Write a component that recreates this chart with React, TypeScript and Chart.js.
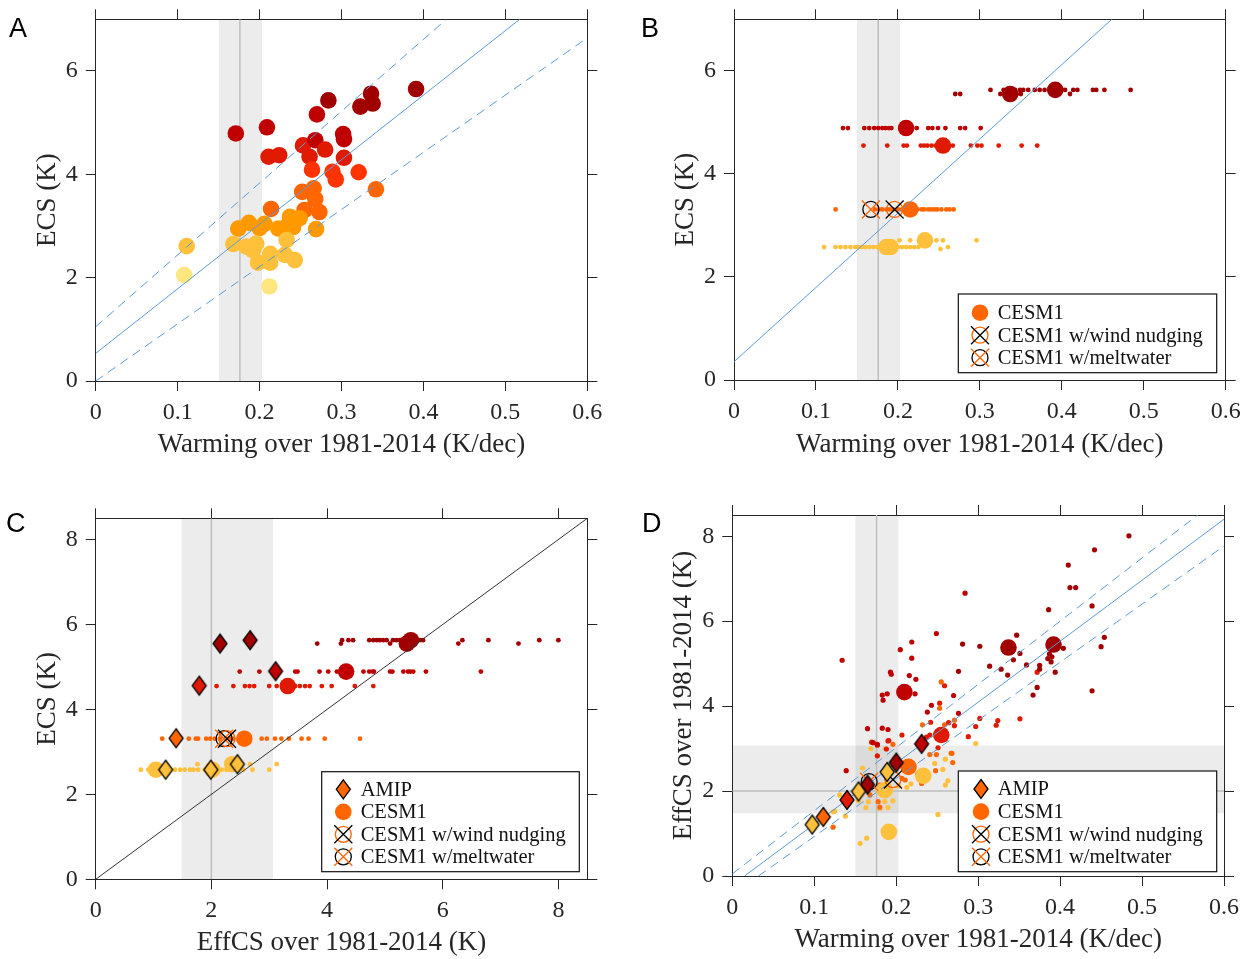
import React, { useEffect, useRef } from 'react';
import { Chart, registerables } from 'chart.js';

Chart.register(...registerables);

// ---------------- DATA ----------------
// Panel A: individual models, 1981-2014 warming trend (K/dec) vs ECS (K)
const A_WARMING = [0.171, 0.209, 0.284, 0.270, 0.323, 0.336, 0.338, 0.391, 0.302, 0.303, 0.303, 0.253, 0.268, 0.280, 0.261, 0.211, 0.224, 0.264, 0.289, 0.293, 0.321, 0.342, 0.252, 0.266, 0.268, 0.255, 0.273, 0.214, 0.269, 0.174, 0.187, 0.206, 0.223, 0.237, 0.249, 0.241, 0.200, 0.233, 0.111, 0.168, 0.184, 0.196, 0.192, 0.233, 0.213, 0.231, 0.243, 0.198, 0.213, 0.108, 0.212];
const A_ECS = [4.79, 4.91, 5.43, 5.16, 5.31, 5.56, 5.37, 5.65, 4.78, 4.68, 4.32, 4.56, 4.66, 4.48, 4.34, 4.34, 4.37, 4.09, 4.05, 3.90, 4.04, 3.71, 3.66, 3.73, 3.52, 3.31, 3.27, 3.33, 2.94, 2.95, 3.06, 3.04, 2.95, 3.18, 3.15, 2.98, 2.96, 2.99, 2.61, 2.65, 2.60, 2.66, 2.53, 2.73, 2.46, 2.44, 2.34, 2.29, 2.29, 2.05, 1.83];

// Large-ensemble means
const LE_WARMING = [0.337, 0.392, 0.210, 0.255, 0.215, 0.233, 0.186, 0.191];
const LE_ECS = [5.55, 5.63, 4.89, 4.55, 3.31, 2.71, 2.58, 2.58];
const LE_EFFCS = [5.38, 5.45, 4.33, 3.32, 2.57, 2.36, 2.02, 1.04];

// CESM1 sensitivity experiments
const CESM1_ECS = 3.31;
const NUDGE_WARMING = 0.196;
const NUDGE_EFFCS = 2.27;
const MELT_WARMING = 0.167;
const MELT_EFFCS = 2.22;

// AMIP runs
const AMIP_WARMING = [0.165, 0.200, 0.231, 0.140, 0.111, 0.0975, 0.154, 0.189];
const AMIP_EFFCS = [2.15, 2.67, 3.11, 1.79, 1.39, 1.21, 1.99, 2.45];
const AMIP_ECS = [5.55, 5.63, 4.90, 4.56, 3.32, 2.58, 2.58, 2.71];

// Panel B ensemble members: warming (K/dec) and ECS
const B_ENS1_X = [0.270, 0.276, 0.313, 0.325, 0.329, 0.335, 0.343, 0.345, 0.349, 0.350, 0.353, 0.359, 0.367, 0.373, 0.379, 0.404, 0.410, 0.414, 0.419, 0.438, 0.442, 0.452, 0.484];
const B_ENS1_Y = [5.55, 5.55, 5.63, 5.55, 5.63, 5.63, 5.63, 5.55, 5.63, 5.55, 5.63, 5.63, 5.63, 5.63, 5.63, 5.63, 5.55, 5.63, 5.63, 5.63, 5.63, 5.63, 5.63];
const B_ENS2_X = [0.133, 0.139, 0.159, 0.165, 0.171, 0.176, 0.181, 0.185, 0.189, 0.192, 0.217, 0.223, 0.237, 0.242, 0.249, 0.258, 0.276, 0.282, 0.301];
const B_ENS2_Y = 4.89;
const B_ENS3_X = [0.158, 0.187, 0.207, 0.211, 0.228, 0.232, 0.236, 0.241, 0.246, 0.249, 0.261, 0.267, 0.289, 0.297, 0.302, 0.323, 0.351, 0.370];
const B_ENS3_Y = 4.55;
const B_ENS4_X = [0.124, 0.172, 0.177, 0.181, 0.186, 0.190, 0.194, 0.200, 0.205, 0.220, 0.224, 0.229, 0.232, 0.237, 0.241, 0.245, 0.248, 0.253, 0.259, 0.263, 0.268];
const B_ENS4_Y = 3.31;
const B_ENS5_X = [0.110, 0.124, 0.130, 0.136, 0.142, 0.148, 0.152, 0.156, 0.160, 0.165, 0.170, 0.175, 0.195, 0.200, 0.205, 0.210, 0.215, 0.220, 0.225, 0.202, 0.215, 0.247, 0.255, 0.252, 0.261, 0.296];
const B_ENS5_Y = [2.58, 2.58, 2.58, 2.58, 2.58, 2.58, 2.58, 2.58, 2.58, 2.58, 2.58, 2.58, 2.58, 2.58, 2.58, 2.58, 2.58, 2.58, 2.58, 2.71, 2.71, 2.71, 2.71, 2.54, 2.58, 2.71];

// Panel C ensemble members: EffCS (K) and ECS
const C_ENS1_X = [3.83, 4.24, 4.26, 4.37, 4.45, 4.73, 4.80, 4.86, 4.91, 4.97, 5.03, 5.09, 5.14, 5.20, 5.26, 5.61, 5.66, 6.27, 6.34, 6.79, 7.31, 7.67, 8.00];
const C_ENS1_Y = [5.55, 5.55, 5.63, 5.63, 5.63, 5.63, 5.63, 5.63, 5.63, 5.63, 5.63, 5.55, 5.63, 5.63, 5.63, 5.63, 5.63, 5.55, 5.63, 5.63, 5.55, 5.63, 5.63];
const C_ENS2_X = [2.49, 2.83, 3.45, 3.49, 3.87, 4.02, 4.17, 4.63, 4.73, 4.79, 4.81, 5.09, 5.13, 5.32, 5.40, 5.44, 5.49, 5.71, 6.66];
const C_ENS2_Y = 4.89;
const C_ENS3_X = [2.09, 2.38, 2.58, 2.66, 2.74, 3.00, 3.13, 3.45, 3.53, 3.62, 3.70, 3.91, 4.08, 4.48, 4.80];
const C_ENS3_Y = 4.55;
const C_ENS4_X = [1.15, 1.61, 1.73, 1.77, 1.91, 1.98, 2.06, 2.15, 2.32, 2.38, 2.87, 2.96, 3.10, 3.21, 3.34, 3.56, 3.68, 3.96, 4.57];
const C_ENS4_Y = 3.31;
const C_ENS5_X = [0.78, 0.91, 0.97, 1.11, 1.37, 1.46, 1.54, 1.63, 1.69, 1.76, 1.77, 1.89, 2.09, 2.18, 2.26, 2.32, 2.55, 2.67, 2.71, 3.00, 3.13];
const C_ENS5_Y = [2.58, 2.58, 2.58, 2.58, 2.58, 2.58, 2.58, 2.58, 2.58, 2.71, 2.58, 2.58, 2.58, 2.58, 2.58, 2.58, 2.58, 2.71, 2.58, 2.58, 2.71];

// Panel D ensemble members: warming (K/dec) and EffCS (K)
const D_GROUP_ECS = [5.6, 4.89, 4.55, 3.31, 2.58];
const D_ENS1_X = [0.484, 0.442, 0.410, 0.412, 0.419, 0.386, 0.439, 0.347, 0.454, 0.450, 0.351, 0.343, 0.328, 0.336, 0.314, 0.359, 0.375, 0.375, 0.385, 0.390, 0.389, 0.387, 0.404, 0.394, 0.372, 0.367, 0.439, 0.281, 0.302, 0.276];
const D_ENS1_Y = [8.01, 7.68, 7.32, 6.79, 6.79, 6.27, 6.36, 5.67, 5.62, 5.40, 5.24, 5.09, 4.87, 4.73, 4.94, 4.97, 4.96, 4.87, 5.12, 5.16, 5.04, 5.23, 5.36, 4.80, 4.44, 4.26, 4.36, 5.46, 5.41, 4.82];
const D_ENS2_X = [0.284, 0.134, 0.249, 0.219, 0.205, 0.219, 0.193, 0.194, 0.216, 0.224, 0.223, 0.183, 0.189, 0.184, 0.270, 0.243, 0.238, 0.276, 0.165, 0.183, 0.190, 0.139, 0.177, 0.172];
const D_ENS2_Y = [6.66, 5.08, 5.71, 5.51, 5.33, 5.13, 4.80, 4.75, 4.72, 4.63, 4.29, 4.26, 4.29, 4.14, 4.25, 4.02, 3.86, 3.83, 3.47, 3.48, 3.45, 2.48, 3.10, 3.14];
const D_ENS3_X = [0.372, 0.259, 0.253, 0.242, 0.264, 0.271, 0.302, 0.297, 0.324, 0.322, 0.351, 0.288, 0.207, 0.191, 0.241, 0.237, 0.251, 0.170, 0.190, 0.177, 0.188, 0.177];
const D_ENS3_Y = [4.80, 4.48, 4.07, 3.62, 3.61, 3.54, 3.71, 3.52, 3.66, 3.55, 3.70, 3.28, 3.32, 3.19, 3.32, 3.27, 3.02, 3.15, 3.18, 3.08, 2.99, 2.83];
const D_ENS4_X = [0.255, 0.253, 0.232, 0.271, 0.259, 0.196, 0.260, 0.241, 0.249, 0.267, 0.269, 0.248, 0.226, 0.231, 0.207, 0.211, 0.180, 0.186, 0.168, 0.178, 0.180, 0.123, 0.268];
const D_ENS4_Y = [4.57, 3.95, 3.56, 3.67, 3.56, 3.10, 3.22, 2.86, 2.86, 2.89, 2.67, 2.48, 2.40, 2.18, 2.30, 2.26, 2.14, 1.98, 1.91, 1.75, 1.62, 1.15, 2.89];
const D_ENS5_X = [0.297, 0.169, 0.187, 0.159, 0.260, 0.247, 0.257, 0.263, 0.260, 0.218, 0.213, 0.203, 0.190, 0.166, 0.186, 0.196, 0.163, 0.154, 0.138, 0.131, 0.123, 0.164, 0.156, 0.251, 0.180, 0.190, 0.125];
const D_ENS5_Y = [3.12, 3.00, 3.00, 2.54, 2.75, 2.65, 2.51, 2.24, 2.14, 2.17, 2.09, 2.12, 2.18, 1.75, 1.75, 1.77, 1.61, 1.77, 1.41, 1.91, 1.51, 0.89, 0.77, 1.45, 1.59, 1.61, 1.53];

// Regression / reference lines (end points)
const A_FIT_X = [0, 0.5175];
const A_FIT_Y = [0.535, 7];
const A_UPPER_X = [0, 0.428];
const A_UPPER_Y = [1.05, 7];
const A_LOWER_X = [0, 0.6];
const A_LOWER_Y = [0, 6.64];
const B_FIT_X = [0, 0.461];
const B_FIT_Y = [0.354, 7];
const C_ONE_TO_ONE = [0, 8.5];
const D_FIT_X = [0.015, 0.6];
const D_FIT_Y = [0, 8.4];
const D_UPPER_X = [0, 0.568];
const D_UPPER_Y = [0.05, 8.5];
const D_LOWER_X = [0.032, 0.6];
const D_LOWER_Y = [0, 7.77];

// Observations
const OBS_WARMING = 0.176;
const OBS_WARMING_RANGE = [0.150, 0.203];
const OBS_EFFCS = 2.0;
const OBS_EFFCS_RANGE = [1.48, 3.07];

// Ticks
const WARMING_TICKS = [0, 0.1, 0.2, 0.3, 0.4, 0.5, 0.6];
const WARMING_TICK_LABELS = ['0', '0.1', '0.2', '0.3', '0.4', '0.5', '0.6'];
const ECS_TICKS_AB = [0, 2, 4, 6];
const ECS_TICK_LABELS_AB = ['0', '2', '4', '6'];
const K_TICKS = [0, 2, 4, 6, 8];
const K_TICK_LABELS = ['0', '2', '4', '6', '8'];

// ---------------- STYLE ----------------
const AXIS = '#262626';
const TXT = '#262626';
const SERIF = '"Liberation Serif", "Times New Roman", Times, serif';
const SANS = '"Liberation Sans", Arial, sans-serif';
const BLUE = '#5b9bd5';
const OBS_GRAY = '#bdbdbd';
const BAND = 'rgba(0,0,0,0.075)';
const CESM_ORANGE = '#ff6600';
const DASH = [9, 6];

function ecsColor(e: number): string {
  if (e >= 5.25) return '#a00000';
  if (e >= 4.65) return '#c00000';
  if (e >= 4.25) return '#e01a00';
  if (e >= 3.85) return '#ff3300';
  if (e >= 3.2) return '#ff6600';
  if (e >= 2.85) return '#ff9900';
  if (e >= 2.2) return '#ffc03c';
  return '#ffe680';
}

type Pt = { x: number; y: number };
const zip = (xs: number[], ys: number[] | number): Pt[] =>
  xs.map((x, i) => ({ x, y: typeof ys === 'number' ? ys : ys[i] }));

function lineDs(xs: number[], ys: number[], color: string, width: number, dash: number[], order: number) {
  return {
    type: 'line', data: zip(xs, ys), borderColor: color, borderWidth: width, borderDash: dash,
    pointRadius: 0, pointHoverRadius: 0, fill: false, tension: 0, order, xAxisID: 'x', yAxisID: 'y',
  };
}
function bandDs(xs: number[], top: number, bottom: number, order: number) {
  return {
    type: 'line', data: zip(xs, top), borderWidth: 0, borderColor: 'rgba(0,0,0,0)',
    backgroundColor: BAND, fill: { value: bottom }, pointRadius: 0, pointHoverRadius: 0, order,
    xAxisID: 'x', yAxisID: 'y',
  };
}
function dotsDs(pts: Pt[], colors: string | string[], r: number, order: number) {
  return {
    type: 'scatter', data: pts, pointRadius: r, pointHoverRadius: r, pointBackgroundColor: colors,
    pointBorderWidth: 0, pointBorderColor: 'rgba(0,0,0,0)', showLine: false, order, xAxisID: 'x', yAxisID: 'y',
  };
}
function ringDs(pts: Pt[], color: string, r: number, order: number) {
  return {
    type: 'scatter', data: pts, pointStyle: 'circle', pointRadius: r, pointHoverRadius: r,
    pointBackgroundColor: 'rgba(0,0,0,0)', pointBorderColor: color, pointBorderWidth: 1.3,
    showLine: false, order, xAxisID: 'x', yAxisID: 'y',
  };
}
function crossDs(pts: Pt[], color: string, r: number, order: number) {
  return {
    type: 'scatter', data: pts, pointStyle: 'crossRot', pointRadius: r, pointHoverRadius: r,
    pointBorderColor: color, pointBorderWidth: 1.3, showLine: false, order, xAxisID: 'x', yAxisID: 'y',
  };
}
const diamondCache: Record<string, HTMLCanvasElement> = {};
function diamond(color: string): HTMLCanvasElement {
  if (diamondCache[color]) return diamondCache[color];
  const c = document.createElement('canvas');
  c.width = 18; c.height = 24;
  const g = c.getContext('2d')!;
  g.beginPath(); g.moveTo(9, 2.5); g.lineTo(16, 12); g.lineTo(9, 21.5); g.lineTo(2, 12); g.closePath();
  g.fillStyle = color; g.fill(); g.lineWidth = 1.3; g.strokeStyle = '#000'; g.stroke();
  diamondCache[color] = c;
  return c;
}
function diamondDs(pts: Pt[], ecs: number[], order: number) {
  return {
    type: 'scatter', data: pts, pointStyle: ecs.map((e) => diamond(ecsColor(e))), pointRadius: 9,
    pointHoverRadius: 9, showLine: false, order, xAxisID: 'x', yAxisID: 'y',
  };
}

interface ScaleSpec {
  xMin: number; xMax: number; yMin: number; yMax: number;
  xTicks: number[]; xLabels: string[]; yTicks: number[]; yLabels: string[];
  xTitle: string; yTitle: string;
  left: number; right: number; top: number; bottom: number;
  xTitlePad: number; yTitlePad: number;
}
function buildScales(p: ScaleSpec) {
  const grid = { drawOnChartArea: false, drawTicks: true, tickLength: 10, color: AXIS, lineWidth: 1 };
  const border = { display: true, color: AXIS, width: 1 };
  const tickFont = { family: SERIF, size: 24 };
  const titleFont = { family: SERIF, size: 27 };
  const setTicks = (vals: number[]) => (s: any) => { s.ticks = vals.map((v) => ({ value: v })); };
  const fix = (key: 'width' | 'height', v: number) => (s: any) => {
    s[key] = v;
    s.paddingTop = 0; s.paddingBottom = 0; s.paddingLeft = 0; s.paddingRight = 0;
  };
  return {
    x: {
      type: 'linear', position: 'bottom', min: p.xMin, max: p.xMax, bounds: 'data',
      afterBuildTicks: setTicks(p.xTicks), afterFit: fix('height', p.bottom),
      grid, border,
      ticks: { font: tickFont, color: TXT, padding: 7.5, autoSkip: false, maxRotation: 0, minRotation: 0,
        callback: (_v: any, i: number) => p.xLabels[i] },
      title: { display: true, text: p.xTitle, font: titleFont, color: TXT, padding: { top: 0, bottom: p.xTitlePad } },
    },
    x2: {
      type: 'linear', position: 'top', min: p.xMin, max: p.xMax, bounds: 'data',
      afterBuildTicks: setTicks(p.xTicks), afterFit: fix('height', p.top),
      grid, border, ticks: { display: false },
    },
    y: {
      type: 'linear', position: 'left', min: p.yMin, max: p.yMax, bounds: 'data',
      afterBuildTicks: setTicks(p.yTicks), afterFit: fix('width', p.left),
      grid, border,
      ticks: { font: tickFont, color: TXT, padding: 8, autoSkip: false, callback: (_v: any, i: number) => p.yLabels[i] },
      title: { display: true, text: p.yTitle, font: titleFont, color: TXT, padding: { top: p.yTitlePad, bottom: 0 } },
    },
    y2: {
      type: 'linear', position: 'right', min: p.yMin, max: p.yMax, bounds: 'data',
      afterBuildTicks: setTicks(p.yTicks), afterFit: fix('width', p.right),
      grid, border, ticks: { display: false },
    },
  };
}

// legend drawing
function drawX(ctx: CanvasRenderingContext2D, x: number, y: number, h: number, color: string) {
  ctx.beginPath();
  ctx.moveTo(x - h, y - h); ctx.lineTo(x + h, y + h);
  ctx.moveTo(x + h, y - h); ctx.lineTo(x - h, y + h);
  ctx.strokeStyle = color; ctx.lineWidth = 1.3; ctx.stroke();
}
function drawRing(ctx: CanvasRenderingContext2D, x: number, y: number, r: number, color: string) {
  ctx.beginPath(); ctx.arc(x, y, r, 0, Math.PI * 2);
  ctx.strokeStyle = color; ctx.lineWidth = 1.3; ctx.stroke();
}
function drawMarker(ctx: CanvasRenderingContext2D, kind: string, x: number, y: number) {
  ctx.save();
  if (kind === 'diamond') {
    ctx.beginPath(); ctx.moveTo(x, y - 9.5); ctx.lineTo(x + 7, y); ctx.lineTo(x, y + 9.5); ctx.lineTo(x - 7, y); ctx.closePath();
    ctx.fillStyle = CESM_ORANGE; ctx.fill(); ctx.lineWidth = 1.3; ctx.strokeStyle = '#000'; ctx.stroke();
  } else if (kind === 'circle') {
    ctx.beginPath(); ctx.arc(x, y, 8.3, 0, Math.PI * 2); ctx.fillStyle = CESM_ORANGE; ctx.fill();
  } else if (kind === 'nudge') {
    drawRing(ctx, x, y, 8, CESM_ORANGE); drawX(ctx, x, y, 9, '#000');
  } else if (kind === 'melt') {
    drawRing(ctx, x, y, 8, '#000'); drawX(ctx, x, y, 9, CESM_ORANGE);
  }
  ctx.restore();
}
interface LegendSpec {
  left: number; top: number; width: number; height: number;
  firstRow: number; rowGap: number; markerX: number; textX: number;
  items: { kind: string; label: string }[];
}
function legendPlugin(spec: LegendSpec) {
  return {
    id: 'boxLegend',
    afterDatasetsDraw(chart: any) {
      const ctx: CanvasRenderingContext2D = chart.ctx;
      ctx.save();
      ctx.fillStyle = '#fff';
      ctx.fillRect(spec.left, spec.top, spec.width, spec.height);
      ctx.strokeStyle = '#111'; ctx.lineWidth = 1.2;
      ctx.strokeRect(spec.left, spec.top, spec.width, spec.height);
      ctx.font = `20.5px ${SERIF}`;
      ctx.textBaseline = 'middle';
      ctx.textAlign = 'left';
      spec.items.forEach((it, i) => {
        const cy = spec.top + spec.firstRow + i * spec.rowGap;
        drawMarker(ctx, it.kind, spec.markerX, cy);
        ctx.fillStyle = '#111';
        ctx.fillText(it.label, spec.textX, cy + 1);
      });
      ctx.restore();
    },
  };
}

const baseOptions = {
  responsive: false,
  animation: false,
  devicePixelRatio: 1,
  events: [],
  layout: { padding: 0 },
  plugins: { legend: { display: false }, tooltip: { enabled: false } },
};

// ---------------- PANELS ----------------
function configA() {
  return {
    type: 'scatter',
    data: {
      datasets: [
        lineDs(A_FIT_X, A_FIT_Y, BLUE, 1, [], 10),
        lineDs(A_UPPER_X, A_UPPER_Y, BLUE, 1, DASH, 10),
        lineDs(A_LOWER_X, A_LOWER_Y, BLUE, 1, DASH, 10),
        dotsDs(zip(A_WARMING, A_ECS), A_ECS.map(ecsColor), 8.3, 20),
        lineDs([OBS_WARMING, OBS_WARMING], [0, 7], OBS_GRAY, 1.5, [], 90),
        bandDs(OBS_WARMING_RANGE, 7, 0, 100),
      ],
    },
    options: {
      ...baseOptions,
      scales: buildScales({
        xMin: 0, xMax: 0.6, yMin: 0, yMax: 7, xTicks: WARMING_TICKS, xLabels: WARMING_TICK_LABELS,
        yTicks: ECS_TICKS_AB, yLabels: ECS_TICK_LABELS_AB, xTitle: 'Warming over 1981-2014 (K/dec)', yTitle: 'ECS (K)',
        left: 95.7, right: 37.7, top: 19.3, bottom: 99, xTitlePad: 18.5, yTitlePad: 31.8,
      }),
    },
  };
}

function configB() {
  const ens = [
    zip(B_ENS1_X, B_ENS1_Y), zip(B_ENS2_X, B_ENS2_Y), zip(B_ENS3_X, B_ENS3_Y),
    zip(B_ENS4_X, B_ENS4_Y), zip(B_ENS5_X, B_ENS5_Y),
  ];
  return {
    type: 'scatter',
    data: {
      datasets: [
        crossDs([{ x: NUDGE_WARMING, y: CESM1_ECS }], '#000', 12.7, 5),
        ringDs([{ x: NUDGE_WARMING, y: CESM1_ECS }], CESM_ORANGE, 8, 6),
        crossDs([{ x: MELT_WARMING, y: CESM1_ECS }], CESM_ORANGE, 12.7, 5),
        ringDs([{ x: MELT_WARMING, y: CESM1_ECS }], '#000', 8, 6),
        lineDs(B_FIT_X, B_FIT_Y, BLUE, 1, [], 10),
        dotsDs(zip(LE_WARMING, LE_ECS), LE_ECS.map(ecsColor), 8.3, 20),
        ...ens.map((pts) => dotsDs(pts, pts.map((p) => ecsColor(p.y)), 2.4, 50)),
        lineDs([OBS_WARMING, OBS_WARMING], [0, 7], OBS_GRAY, 1.5, [], 90),
        bandDs(OBS_WARMING_RANGE, 7, 0, 100),
      ],
    },
    options: {
      ...baseOptions,
      scales: buildScales({
        xMin: 0, xMax: 0.6, yMin: 0, yMax: 7, xTicks: WARMING_TICKS, xLabels: WARMING_TICK_LABELS,
        yTicks: ECS_TICKS_AB, yLabels: ECS_TICK_LABELS_AB, xTitle: 'Warming over 1981-2014 (K/dec)', yTitle: 'ECS (K)',
        left: 98, right: 25.3, top: 19.3, bottom: 100, xTitlePad: 18.5, yTitlePad: 33.8,
      }),
    },
    plugins: [legendPlugin({
      left: 322.3, top: 294, width: 258.4, height: 78.7, firstRow: 18.7, rowGap: 22.5, markerX: 344, textX: 361.7,
      items: [
        { kind: 'circle', label: 'CESM1' },
        { kind: 'nudge', label: 'CESM1 w/wind nudging' },
        { kind: 'melt', label: 'CESM1 w/meltwater' },
      ],
    })],
  };
}

function configC() {
  const ens = [
    zip(C_ENS1_X, C_ENS1_Y), zip(C_ENS2_X, C_ENS2_Y), zip(C_ENS3_X, C_ENS3_Y),
    zip(C_ENS4_X, C_ENS4_Y), zip(C_ENS5_X, C_ENS5_Y),
  ];
  return {
    type: 'scatter',
    data: {
      datasets: [
        diamondDs(zip(AMIP_EFFCS, AMIP_ECS), AMIP_ECS, 4),
        crossDs([{ x: NUDGE_EFFCS, y: CESM1_ECS }], '#000', 12.7, 5),
        ringDs([{ x: NUDGE_EFFCS, y: CESM1_ECS }], CESM_ORANGE, 8, 6),
        crossDs([{ x: MELT_EFFCS, y: CESM1_ECS }], CESM_ORANGE, 12.7, 5),
        ringDs([{ x: MELT_EFFCS, y: CESM1_ECS }], '#000', 8, 6),
        lineDs(C_ONE_TO_ONE, C_ONE_TO_ONE, '#333333', 1, [], 10),
        dotsDs(zip(LE_EFFCS, LE_ECS), LE_ECS.map(ecsColor), 8.3, 20),
        ...ens.map((pts) => dotsDs(pts, pts.map((p) => ecsColor(p.y)), 2.4, 50)),
        lineDs([OBS_EFFCS, OBS_EFFCS], [0, 8.5], OBS_GRAY, 1.5, [], 90),
        bandDs(OBS_EFFCS_RANGE, 8.5, 0, 100),
      ],
    },
    options: {
      ...baseOptions,
      scales: buildScales({
        xMin: 0, xMax: 8.5, yMin: 0, yMax: 8.5, xTicks: K_TICKS, xLabels: K_TICK_LABELS,
        yTicks: K_TICKS, yLabels: K_TICK_LABELS, xTitle: 'EffCS over 1981-2014 (K)', yTitle: 'ECS (K)',
        left: 95.7, right: 37.7, top: 38.3, bottom: 79.7, xTitlePad: 0, yTitlePad: 31.8,
      }),
    },
    plugins: [legendPlugin({
      left: 321.7, top: 291.7, width: 257.6, height: 100, firstRow: 17.6, rowGap: 22.5, markerX: 343.3, textX: 360.7,
      items: [
        { kind: 'diamond', label: 'AMIP' },
        { kind: 'circle', label: 'CESM1' },
        { kind: 'nudge', label: 'CESM1 w/wind nudging' },
        { kind: 'melt', label: 'CESM1 w/meltwater' },
      ],
    })],
  };
}

function configD() {
  const ens = [
    [D_ENS1_X, D_ENS1_Y], [D_ENS2_X, D_ENS2_Y], [D_ENS3_X, D_ENS3_Y], [D_ENS4_X, D_ENS4_Y], [D_ENS5_X, D_ENS5_Y],
  ];
  return {
    type: 'scatter',
    data: {
      datasets: [
        diamondDs(zip(AMIP_WARMING, AMIP_EFFCS), AMIP_ECS, 4),
        crossDs([{ x: NUDGE_WARMING, y: NUDGE_EFFCS }], '#000', 12.7, 5),
        ringDs([{ x: NUDGE_WARMING, y: NUDGE_EFFCS }], CESM_ORANGE, 8, 6),
        crossDs([{ x: MELT_WARMING, y: MELT_EFFCS }], CESM_ORANGE, 12.7, 5),
        ringDs([{ x: MELT_WARMING, y: MELT_EFFCS }], '#000', 8, 6),
        lineDs(D_FIT_X, D_FIT_Y, BLUE, 1, [], 10),
        lineDs(D_UPPER_X, D_UPPER_Y, BLUE, 1, DASH, 10),
        lineDs(D_LOWER_X, D_LOWER_Y, BLUE, 1, DASH, 10),
        dotsDs(zip(LE_WARMING, LE_EFFCS), LE_ECS.map(ecsColor), 8.3, 20),
        ...ens.map(([xs, ys], g) => dotsDs(zip(xs, ys), ecsColor(D_GROUP_ECS[g]), 2.6, 50)),
        lineDs([OBS_WARMING, OBS_WARMING], [0, 8.5], OBS_GRAY, 1.5, [], 90),
        lineDs([0, 0.6], [OBS_EFFCS, OBS_EFFCS], OBS_GRAY, 1.5, [], 90),
        bandDs(OBS_WARMING_RANGE, 8.5, 0, 100),
        bandDs([0, 0.6], OBS_EFFCS_RANGE[1], OBS_EFFCS_RANGE[0], 100),
      ],
    },
    options: {
      ...baseOptions,
      scales: buildScales({
        xMin: 0, xMax: 0.6, yMin: 0, yMax: 8.5, xTicks: WARMING_TICKS, xLabels: WARMING_TICK_LABELS,
        yTicks: K_TICKS, yLabels: K_TICK_LABELS, xTitle: 'Warming over 1981-2014 (K/dec)', yTitle: 'EffCS over 1981-2014 (K)',
        left: 96.3, right: 27, top: 35, bottom: 83, xTitlePad: 2.8, yTitlePad: 31.8,
      }),
    },
    plugins: [legendPlugin({
      left: 322.3, top: 291, width: 258.4, height: 100.7, firstRow: 18, rowGap: 22.6, markerX: 345, textX: 361.7,
      items: [
        { kind: 'diamond', label: 'AMIP' },
        { kind: 'circle', label: 'CESM1' },
        { kind: 'nudge', label: 'CESM1 w/wind nudging' },
        { kind: 'melt', label: 'CESM1 w/meltwater' },
      ],
    })],
  };
}

function Panel({ make, left, top, width, height }: { make: () => any; left: number; top: number; width: number; height: number }) {
  const ref = useRef<HTMLCanvasElement>(null);
  useEffect(() => {
    const chart = new Chart(ref.current as HTMLCanvasElement, make());
    return () => chart.destroy();
  }, []);
  return (
    <canvas
      ref={ref}
      width={width}
      height={height}
      style={{ position: 'absolute', left, top, width, height, display: 'block' }}
    />
  );
}

const letterStyle = (left: number, top: number): React.CSSProperties => ({
  position: 'absolute', left, top, fontFamily: SANS, fontSize: 27, lineHeight: '27px', color: '#000',
});

export default function App() {
  return (
    <div style={{ position: 'absolute', left: 0, top: 0, width: 1251, height: 959, background: '#fff', overflow: 'hidden' }}>
      <Panel make={configA} left={0} top={0} width={625} height={480} />
      <Panel make={configB} left={636} top={0} width={615} height={480} />
      <Panel make={configC} left={0} top={480} width={625} height={479} />
      <Panel make={configD} left={636} top={480} width={615} height={479} />
      <div style={letterStyle(9, 14.7)}>A</div>
      <div style={letterStyle(641, 14.7)}>B</div>
      <div style={letterStyle(6, 509.7)}>C</div>
      <div style={letterStyle(642, 509.7)}>D</div>
    </div>
  );
}
